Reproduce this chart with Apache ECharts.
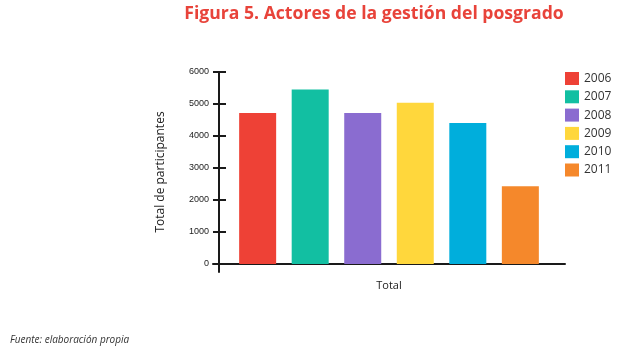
<!DOCTYPE html>
<html>
<head>
<meta charset="utf-8">
<script src="https://cdn.jsdelivr.net/npm/echarts@6/dist/echarts.min.js"></script>
<style>
html,body{margin:0;padding:0;background:#fff;}
#chart{width:617px;height:349px;}
</style>
</head>
<body>
<div id="chart"></div>
<script>
const categories = ["Total"];
const seriesNames = ["2006", "2007", "2008", "2009", "2010", "2011"];
const seriesValues = [4720, 5450, 4720, 5040, 4410, 2430];
const yTicks = [0, 1000, 2000, 3000, 4000, 5000, 6000];
const colors = ["#ee4136", "#12bfa2", "#8a6cd0", "#ffd73c", "#00aedc", "#f5882b"];

const chart = echarts.init(document.getElementById('chart'));
const axisColor = '#1a1a1a';
const option = {
  animation: false,
  backgroundColor: '#fff',
  title: [{
    text: 'Figura 5. Actores de la gestión del posgrado',
    left: 369, top: 0, textAlign: 'center',
    textStyle: { color: '#e8433a', fontSize: 17.6, fontWeight: 'bold', fontFamily: 'Open Sans' }
  }, {
    text: 'Fuente: elaboración propia',
    left: 5, top: 330,
    textStyle: { color: '#333', fontSize: 10, fontWeight: 'normal', fontStyle: 'italic', fontFamily: 'Open Sans' }
  }],
  legend: {
    orient: 'vertical', left: 560, top: 67,
    itemWidth: 14, itemHeight: 13, itemGap: 5.3,
    icon: 'rect',
    textStyle: { color: '#333', fontSize: 12, fontFamily: 'Open Sans' },
    data: seriesNames
  },
  grid: { left: 213, right: 52, top: 72, bottom: 77 },
  xAxis: {
    type: 'category', data: categories,
    axisLine: { onZero: true, lineStyle: { color: axisColor, width: 2 } },
    axisTick: { show: false },
    axisLabel: { color: '#222', fontSize: 11, margin: 8, fontFamily: 'Open Sans' }
  },
  yAxis: [{
    type: 'value', min: -250, max: 6000, offset: -6,
    name: 'Total de participantes', nameLocation: 'middle', nameGap: 52,
    nameTextStyle: { color: '#222', fontSize: 12, fontFamily: 'Open Sans' },
    axisLine: { show: true, lineStyle: { color: axisColor, width: 2 } },
    axisTick: { show: true, length: 6, customValues: yTicks, lineStyle: { color: axisColor, width: 2 } },
    axisLabel: { customValues: yTicks, formatter: v => String(v), color: '#222', fontSize: 9, margin: 10, fontFamily: 'Liberation Sans' },
    splitLine: { show: false }
  }, {
    type: 'value', min: -250, max: 6000, offset: -6, position: 'left',
    axisLine: { show: false },
    axisTick: { show: true, inside: true, length: 7, customValues: yTicks, lineStyle: { color: axisColor, width: 2 } },
    axisLabel: { show: false },
    splitLine: { show: false }
  }],
  series: seriesNames.map((n, i) => ({
    name: n, type: 'bar', data: [seriesValues[i]],
    barWidth: 37, barGap: '42%',
    itemStyle: { color: colors[i] }
  }))
};
chart.setOption(option);
</script>
</body>
</html>
